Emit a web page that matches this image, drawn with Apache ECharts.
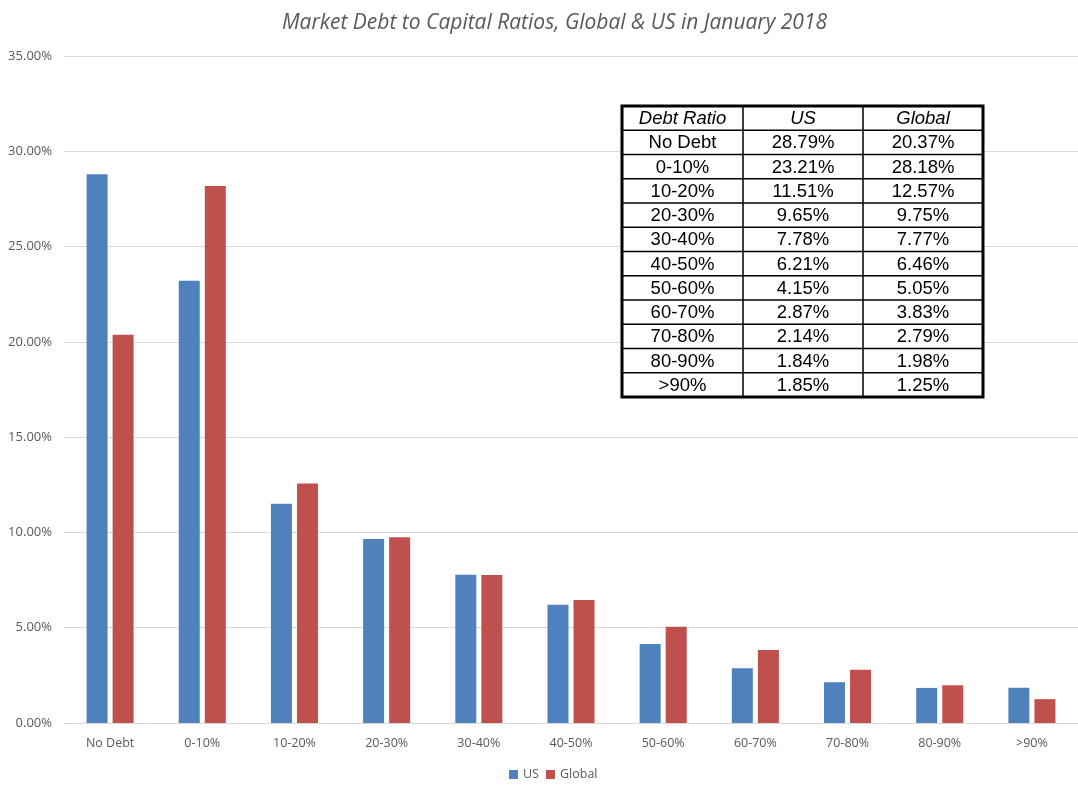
<!DOCTYPE html>
<html>
<head>
<meta charset="utf-8">
<script src="https://cdn.jsdelivr.net/npm/echarts@6/dist/echarts.min.js"></script>
<style>html,body{margin:0;padding:0;background:#fff}#c{width:1078px;height:798px}</style>
</head>
<body>
<div id="c"></div>
<script>
const categories = ['No Debt','0-10%','10-20%','20-30%','30-40%','40-50%','50-60%','60-70%','70-80%','80-90%','>90%'];
const usValues = [28.79,23.21,11.51,9.65,7.78,6.21,4.15,2.87,2.14,1.84,1.85];
const globalValues = [20.37,28.18,12.57,9.75,7.77,6.46,5.05,3.83,2.79,1.98,1.25];
const tableHeader = ['Debt Ratio','US','Global'];
const titleText = 'Market Debt to Capital Ratios, Global & US in January 2018';

const chart = echarts.init(document.getElementById('c'));

// build table graphic
const tx = 622, ty = 106, colW = [121,120,120], rowH = 24.25;
const totalW = colW.reduce((a,b)=>a+b,0);
const nRows = categories.length + 1;
const children = [];
children.push({type:'rect', shape:{x:tx,y:ty,width:totalW,height:rowH*nRows}, style:{fill:'#fff',stroke:null}, z:10});
for (let r=1;r<nRows;r++){
  children.push({type:'line', shape:{x1:tx,y1:ty+r*rowH,x2:tx+totalW,y2:ty+r*rowH}, style:{stroke:'#000',lineWidth:1.5}, z:11});
}
let cx = tx;
for (let c=0;c<colW.length-1;c++){
  cx += colW[c];
  children.push({type:'line', shape:{x1:cx,y1:ty,x2:cx,y2:ty+rowH*nRows}, style:{stroke:'#000',lineWidth:1.5}, z:11});
}
children.push({type:'rect', shape:{x:tx,y:ty,width:totalW,height:rowH*nRows}, style:{fill:null,stroke:'#000',lineWidth:3}, z:12});
function cellText(row,col,txt,italic){
  let x = tx; for (let i=0;i<col;i++) x+=colW[i];
  children.push({type:'text', x:x+colW[col]/2, y:ty+row*rowH+rowH/2+1,
    style:{text:txt, fill:'#000', font:(italic?'italic ':'')+'18.5px "Liberation Sans", Arial, sans-serif', textAlign:'center', textVerticalAlign:'middle'}, z:13});
}
tableHeader.forEach((h,i)=>cellText(0,i,h,true));
categories.forEach((cat,i)=>{
  cellText(i+1,0,cat,false);
  cellText(i+1,1,usValues[i].toFixed(2)+'%',false);
  cellText(i+1,2,globalValues[i].toFixed(2)+'%',false);
});

chart.setOption({
  animation:false,
  backgroundColor:'#fff',
  title:{text:titleText,left:277,top:8,
    textStyle:{fontFamily:'"Open Sans", Lato, sans-serif',fontStyle:'italic',fontWeight:'normal',fontSize:21,color:'#595959'}},
  legend:{bottom:12,left:504,itemWidth:9,itemHeight:9,itemGap:7,icon:'rect',
    textStyle:{fontFamily:'"Open Sans", sans-serif',fontSize:12.5,color:'#595959'},
    data:['US','Global']},
  grid:{left:64,right:-6,top:56,bottom:75},
  xAxis:{type:'category',data:categories,
    axisLine:{lineStyle:{color:'#d9d9d9',width:1}},axisTick:{show:false},
    axisLabel:{color:'#595959',fontFamily:'"Open Sans", sans-serif',fontSize:12.5,margin:14,interval:0}},
  yAxis:{type:'value',min:0,max:35,interval:5,
    axisLine:{show:false},axisTick:{show:false},
    splitLine:{lineStyle:{color:'#d9d9d9',width:1}},
    axisLabel:{formatter:v=>v.toFixed(2)+'%',color:'#595959',fontFamily:'"Open Sans", sans-serif',fontSize:13,margin:12}},
  series:[
    {name:'US',type:'bar',data:usValues,barWidth:21,barGap:'24%',itemStyle:{color:'#4F81BD'}},
    {name:'Global',type:'bar',data:globalValues,barWidth:21,barGap:'24%',itemStyle:{color:'#C0504D'}}
  ],
  graphic:{elements:[{type:'group',children:children}]}
});
</script>
</body>
</html>
